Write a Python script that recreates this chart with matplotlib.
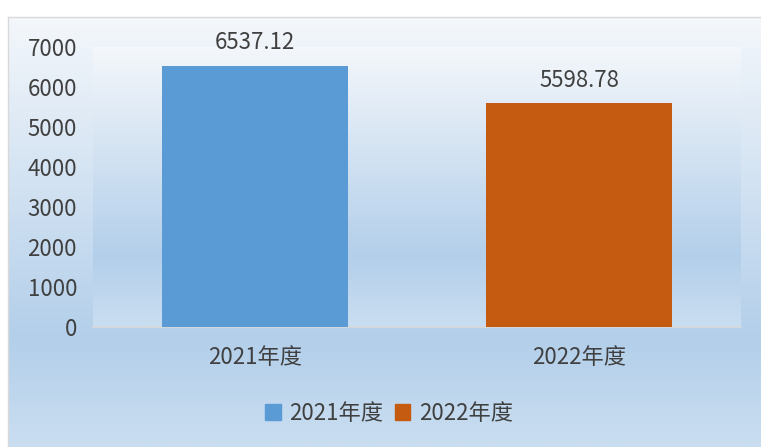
import numpy as np
import matplotlib
matplotlib.use("Agg")
import matplotlib.pyplot as plt
from matplotlib.colors import LinearSegmentedColormap
from matplotlib.patches import Rectangle

plt.rcParams['font.family'] = ['Noto Sans CJK SC', 'DejaVu Sans']

categories = ["2021年度", "2022年度"]
values = [6537.12, 5598.78]
labels = ["6537.12", "5598.78"]
colors = ["#5b9bd5", "#c55a11"]
yticks = [0, 1000, 2000, 3000, 4000, 5000, 6000, 7000]

W, H = 761, 447
fig = plt.figure(figsize=(W / 100, H / 100), dpi=100)
fig.patch.set_facecolor("white")

bg = fig.add_axes([0, 0, 1, 1])
bg.set_xlim(0, W)
bg.set_ylim(H, 0)
bg.axis("off")

cmap = LinearSegmentedColormap.from_list(
    "grad", [(0, "#f4f7fb"), (0.75, "#b3cfea"), (1.0, "#cadef1")])
grad = np.linspace(0, 1, 256).reshape(-1, 1)
# chart area
bg.imshow(grad, cmap=cmap, aspect="auto", extent=[8, W, H, 17], zorder=1)
bg.plot([8, W], [17, 17], color="#d9d9d9", lw=1, zorder=2)
bg.plot([8, 8], [17, H], color="#d9d9d9", lw=1, zorder=2)
# plot area
bg.imshow(grad, cmap=cmap, aspect="auto", extent=[93, 741, 327, 47], zorder=2)
bg.set_xlim(0, W)
bg.set_ylim(H, 0)

ax = fig.add_axes([93 / W, (H - 327) / H, (741 - 93) / W, (327 - 47) / H])
ax.set_facecolor("none")
x = np.arange(len(categories))
ax.bar(x, values, width=0.571, color=colors, zorder=3)
ax.set_xlim(-0.5, len(categories) - 0.5)
ax.set_ylim(0, 7000)
ax.set_yticks(yticks)
ax.set_yticklabels([str(t) for t in yticks])
ax.set_xticks(x)
ax.set_xticklabels(categories)
for s in ["top", "right", "left"]:
    ax.spines[s].set_visible(False)
ax.spines["bottom"].set_color("#d9d9d9")
ax.spines["bottom"].set_linewidth(1.2)
ax.tick_params(axis="both", length=0, labelsize=16, colors="#404040")
ax.tick_params(axis="y", pad=11.5)
ax.tick_params(axis="x", pad=14)

for xi, v, lab in zip(x, values, labels):
    ax.annotate(lab, (xi, v), xytext=(0, 8), textcoords="offset points",
                ha="center", va="bottom", fontsize=16, color="#404040")

handles = [Rectangle((0, 0), 1, 1, color=c) for c in colors]
leg = fig.legend(handles, categories, loc="center", bbox_to_anchor=(389 / W, (H - 413) / H),
                 ncol=2, frameon=False, fontsize=16, handlelength=0.7, handleheight=0.7,
                 handletextpad=0.4, columnspacing=0.5, labelcolor="#404040")

fig.savefig("out.png", dpi=100)
